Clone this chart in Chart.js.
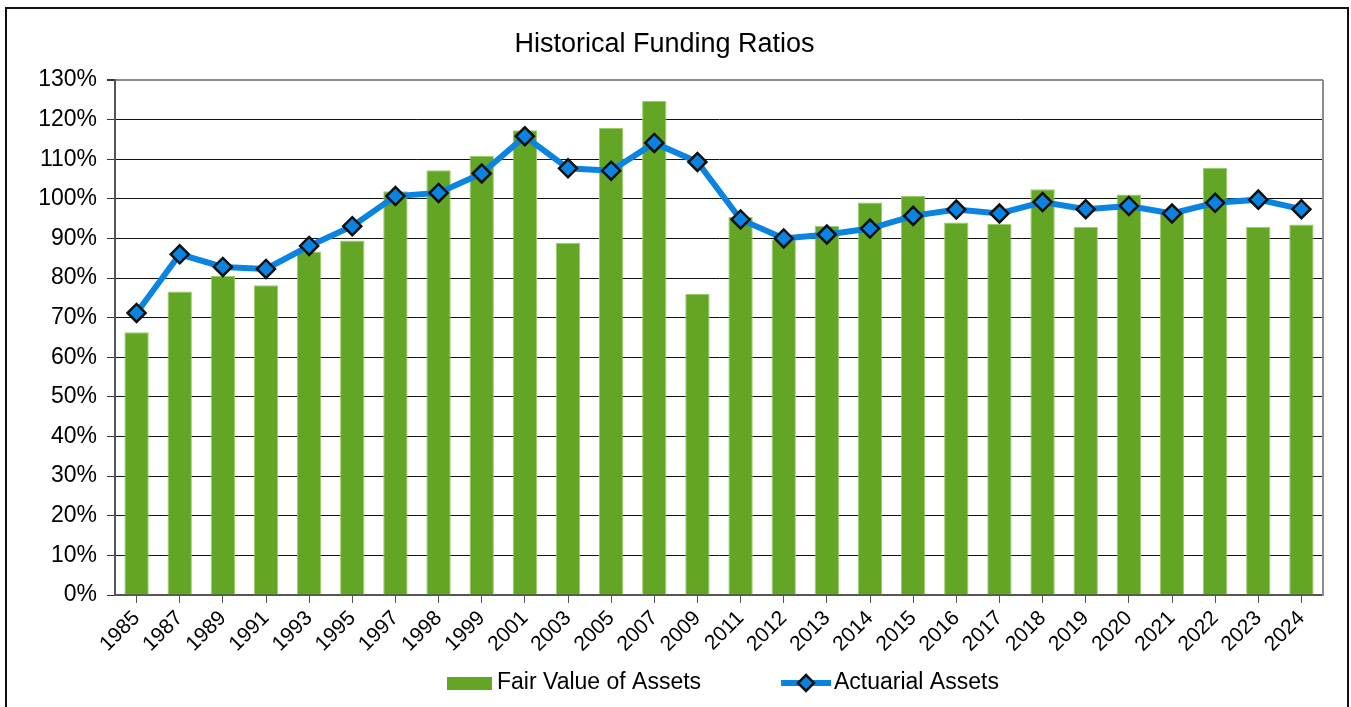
<!DOCTYPE html>
<html>
<head>
<meta charset="utf-8">
<script src="https://cdn.jsdelivr.net/npm/chart.js@4/dist/chart.umd.min.js"></script>
<style>
  html, body { margin: 0; padding: 0; background: #fff; }
  #wrap { width: 1351px; height: 707px; }
</style>
</head>
<body>
<div id="wrap"><canvas id="fundingChart" width="1351" height="707"></canvas></div>
<script>
// Anos (categorias)
var years = ['1985', '1987', '1989', '1991', '1993', '1995', '1997', '1998', '1999', '2001',
  '2003', '2005', '2007', '2009', '2011', '2012', '2013', '2014', '2015', '2016',
  '2017', '2018', '2019', '2020', '2021', '2022', '2023', '2024'];

// Fair Value of Assets (%)
var fairValue = [66.3, 76.6, 80.5, 78.2, 86.7, 89.5, 101.9, 107.2, 110.9, 117.3,
  88.9, 117.9, 124.7, 76.0, 95.4, 89.8, 93.2, 99.1, 100.7, 94.0,
  93.7, 102.4, 92.9, 101.1, 96.5, 107.8, 92.9, 93.5];

// Actuarial Assets (%)
var actuarial = [71.2, 86.0, 82.8, 82.3, 88.1, 93.1, 100.7, 101.5, 106.4, 115.8,
  107.7, 107.1, 114.1, 109.3, 94.8, 90.0, 91.0, 92.5, 95.7, 97.3,
  96.3, 99.2, 97.4, 98.2, 96.3, 99.0, 99.8, 97.4];

// Eixo Y
var yMin = 0;
var yMax = 130;
var yStep = 10;

var GREEN = '#63a524';
var BLUE = '#0a84e0';
var FONT = "'Liberation Sans', Arial, sans-serif";

// Moldura, borda do gráfico e legenda
var framePlugin = {
  id: 'frame',
  beforeDatasetsDraw: function(chart) {
    var ctx = chart.ctx, a = chart.chartArea;
    ctx.save();
    ctx.strokeStyle = '#8c8c8c';
    ctx.lineWidth = 2;
    ctx.beginPath();
    ctx.moveTo(a.right, a.top);
    ctx.lineTo(a.right, a.bottom + 1);
    ctx.stroke();
    ctx.restore();
  },
  afterDraw: function(chart) {
    var ctx = chart.ctx;
    var ds = chart.data.datasets;
    var barDs = ds.filter(function(d) { return d.type === 'bar'; })[0];
    var lineDs = ds.filter(function(d) { return d.type === 'line'; })[0];
    ctx.save();
    // moldura externa
    ctx.strokeStyle = '#111';
    ctx.lineWidth = 2;
    ctx.strokeRect(6, 8, 1342, 740);

    // legenda
    ctx.font = '23px ' + FONT;
    ctx.textBaseline = 'middle';
    var ly = 683;
    ctx.fillStyle = GREEN;
    ctx.fillRect(447, 677, 45, 13);
    ctx.fillStyle = '#000';
    ctx.fillText(barDs.label, 497, ly);

    ctx.strokeStyle = BLUE;
    ctx.lineWidth = 6;
    ctx.beginPath();
    ctx.moveTo(781, ly);
    ctx.lineTo(831, ly);
    ctx.stroke();
    ctx.beginPath();
    ctx.moveTo(806, ly - 8);
    ctx.lineTo(814, ly);
    ctx.lineTo(806, ly + 8);
    ctx.lineTo(798, ly);
    ctx.closePath();
    ctx.fillStyle = BLUE;
    ctx.fill();
    ctx.strokeStyle = '#111';
    ctx.lineWidth = 2.5;
    ctx.stroke();
    ctx.fillStyle = '#000';
    ctx.fillText(lineDs.label, 834, ly);
    ctx.restore();
  }
};

document.addEventListener('DOMContentLoaded', function() {
  var ctx = document.getElementById('fundingChart').getContext('2d');
  new Chart(ctx, {
    type: 'bar',
    data: {
      labels: years,
      datasets: [{
        type: 'line',
        label: 'Actuarial Assets',
        data: actuarial,
        order: 0,
        borderColor: BLUE,
        borderWidth: 6,
        tension: 0,
        pointStyle: 'rectRot',
        pointRadius: 9,
        pointBackgroundColor: BLUE,
        pointBorderColor: '#111',
        pointBorderWidth: 2.5
      }, {
        type: 'bar',
        label: 'Fair Value of Assets',
        data: fairValue,
        order: 1,
        backgroundColor: GREEN,
        borderColor: '#9ccb6c',
        borderWidth: { left: 1, right: 1, top: 1, bottom: 0 },
        barPercentage: 0.565,
        categoryPercentage: 1
      }]
    },
    options: {
      responsive: false,
      animation: false,
      layout: { padding: { left: 6, right: 28, top: 10, bottom: 50 } },
      plugins: {
        legend: { display: false },
        tooltip: { enabled: false },
        title: {
          display: true,
          text: 'Historical Funding Ratios',
          color: '#000',
          font: { family: FONT, size: 27, weight: 'normal', lineHeight: 1.2 },
          padding: { top: 18, bottom: 19.6 }
        }
      },
      scales: {
        x: {
          afterFit: function(scale) { scale.height = 62; },
          grid: {
            offset: false,
            drawOnChartArea: false,
            drawTicks: true,
            tickLength: 8,
            color: '#555'
          },
          border: { color: '#555', width: 2 },
          ticks: {
            autoSkip: false,
            maxRotation: 45,
            minRotation: 45,
            padding: 3,
            color: '#000',
            font: { family: FONT, size: 21 }
          }
        },
        y: {
          min: yMin,
          max: yMax,
          afterFit: function(scale) { scale.width = 109; },
          afterBuildTicks: function(scale) {
            var t = [];
            for (var v = yMin; v <= yMax; v += yStep) t.push({ value: v });
            scale.ticks = t;
          },
          grid: {
            color: function(c) { return c.tick && c.tick.value === yMax ? '#8c8c8c' : '#111'; },
            lineWidth: function(c) { return c.tick && c.tick.value === yMax ? 2 : 1; },
            tickColor: '#333',
            tickLength: 8
          },
          border: { color: '#555', width: 2 },
          ticks: {
            padding: 10,
            color: '#000',
            font: { family: FONT, size: 23 },
            callback: function(v) { return v + '%'; }
          }
        }
      }
    },
    plugins: [framePlugin]
  });
});
</script>
</body>
</html>
